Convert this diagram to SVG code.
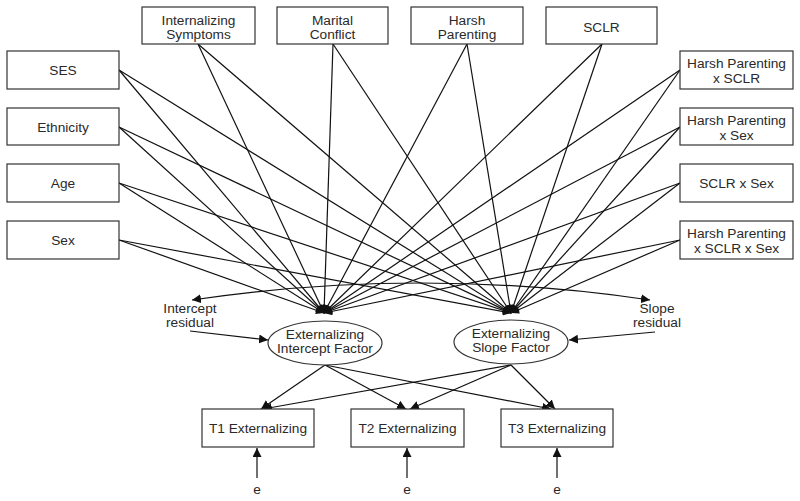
<svg xmlns="http://www.w3.org/2000/svg" width="800" height="501" viewBox="0 0 800 501">
<defs>
<marker id="ah" viewBox="0 0 10 10" refX="10" refY="5" markerWidth="9" markerHeight="8" markerUnits="userSpaceOnUse" orient="auto">
<path d="M0,0 L10,5 L0,10 z" fill="#111"/>
</marker>
<marker id="ahs" viewBox="0 0 10 10" refX="10" refY="5" markerWidth="9" markerHeight="9" markerUnits="userSpaceOnUse" orient="auto-start-reverse">
<path d="M0,0 L10,5 L0,10 z" fill="#111"/>
</marker>
<marker id="ahb" viewBox="0 0 10 10" refX="10" refY="5" markerWidth="9" markerHeight="9" markerUnits="userSpaceOnUse" orient="auto">
<path d="M0,0 L10,5 L0,10 z" fill="#111"/>
</marker>
</defs>
<style>
rect{fill:#fff;stroke:#333;stroke-width:1.2}
ellipse{fill:#fff;stroke:#333;stroke-width:1.2}
text{font-family:"Liberation Sans",Arial,sans-serif;font-size:13.7px;fill:#2a2a2a;text-anchor:middle}
.c line,.c path{stroke:#111;stroke-width:1.2;fill:none}
.p{marker-end:url(#ah)}
.b{marker-end:url(#ahb)}
</style>
<rect width="800" height="501" fill="#fff" style="stroke:none"/>
<g class="c" id="connectors">
<line class="p" x1="119" y1="70" x2="324" y2="313"/>
<line class="p" x1="119" y1="70" x2="511" y2="313"/>
<line class="p" x1="119" y1="127" x2="324" y2="313"/>
<line class="p" x1="119" y1="127" x2="511" y2="313"/>
<line class="p" x1="119" y1="183" x2="324" y2="313"/>
<line class="p" x1="119" y1="183" x2="511" y2="313"/>
<line class="p" x1="119" y1="240" x2="324" y2="313"/>
<line class="p" x1="119" y1="240" x2="511" y2="313"/>
<line class="p" x1="198" y1="44" x2="324" y2="313"/>
<line class="p" x1="198" y1="44" x2="511" y2="313"/>
<line class="p" x1="333" y1="44" x2="324" y2="313"/>
<line class="p" x1="333" y1="44" x2="511" y2="313"/>
<line class="p" x1="467" y1="44" x2="324" y2="313"/>
<line class="p" x1="467" y1="44" x2="511" y2="313"/>
<line class="p" x1="602" y1="44" x2="324" y2="313"/>
<line class="p" x1="602" y1="44" x2="511" y2="313"/>
<line class="p" x1="680" y1="70" x2="324" y2="313"/>
<line class="p" x1="680" y1="70" x2="511" y2="313"/>
<line class="p" x1="680" y1="127" x2="324" y2="313"/>
<line class="p" x1="680" y1="127" x2="511" y2="313"/>
<line class="p" x1="680" y1="183" x2="324" y2="313"/>
<line class="p" x1="680" y1="183" x2="511" y2="313"/>
<line class="p" x1="680" y1="240" x2="324" y2="313"/>
<line class="p" x1="680" y1="240" x2="511" y2="313"/>
<path d="M192,300 Q421,266 650,300" marker-start="url(#ahs)" marker-end="url(#ahs)"/>
<line class="b" x1="190" y1="331" x2="268" y2="340"/>
<line class="b" x1="655" y1="332" x2="569" y2="340"/>
<line class="b" x1="325" y1="365" x2="261" y2="409"/>
<line class="b" x1="325" y1="365" x2="406" y2="409"/>
<line class="b" x1="325" y1="365" x2="551" y2="409"/>
<line class="b" x1="511" y1="365" x2="263" y2="409"/>
<line class="b" x1="511" y1="365" x2="410" y2="409"/>
<line class="b" x1="511" y1="365" x2="555" y2="409"/>
<line class="b" x1="257" y1="478" x2="257" y2="448"/>
<line class="b" x1="407" y1="478" x2="407" y2="448"/>
<line class="b" x1="557" y1="478" x2="557" y2="448"/>
</g>
<g id="internalizing"><rect x="142" y="7" width="113" height="37"/><text x="198.5" y="25">Internalizing</text><text x="198.5" y="39">Symptoms</text></g>
<g id="marital"><rect x="277" y="7" width="111" height="37"/><text x="332.5" y="25">Marital</text><text x="332.5" y="39">Conflict</text></g>
<g id="harsh"><rect x="411" y="7" width="112" height="37"/><text x="467" y="25">Harsh</text><text x="467" y="39">Parenting</text></g>
<g id="sclr"><rect x="546" y="7" width="111" height="37"/><text x="601.5" y="32">SCLR</text></g>
<g id="ses"><rect x="7" y="51" width="112" height="38"/><text x="63" y="75">SES</text></g>
<g id="ethnicity"><rect x="7" y="108" width="112" height="37"/><text x="63" y="131.5">Ethnicity</text></g>
<g id="age"><rect x="7" y="164" width="112" height="38"/><text x="63" y="188">Age</text></g>
<g id="sex"><rect x="7" y="221" width="112" height="38"/><text x="63" y="245">Sex</text></g>
<g id="hpxsclr"><rect x="680" y="51" width="113" height="38"/><text x="736.5" y="68">Harsh Parenting</text><text x="736.5" y="83">x SCLR</text></g>
<g id="hpxsex"><rect x="680" y="108" width="113" height="37"/><text x="736.5" y="125">Harsh Parenting</text><text x="736.5" y="140">x Sex</text></g>
<g id="sclrxsex"><rect x="680" y="164" width="113" height="38"/><text x="736.5" y="188">SCLR x Sex</text></g>
<g id="hpxsclrxsex"><rect x="680" y="221" width="113" height="38"/><text x="736.5" y="238">Harsh Parenting</text><text x="736.5" y="253">x SCLR x Sex</text></g>
<g id="intercept"><ellipse cx="325" cy="343" rx="57" ry="22"/><text x="325" y="339">Externalizing</text><text x="325" y="353">Intercept Factor</text></g>
<g id="slope"><ellipse cx="511" cy="342" rx="57" ry="22"/><text x="511" y="338">Externalizing</text><text x="511" y="352">Slope Factor</text></g>
<g id="intres"><text x="190" y="313">Intercept</text><text x="190" y="327">residual</text></g>
<g id="sloperes"><text x="657" y="313">Slope</text><text x="657" y="327">residual</text></g>
<g id="t1"><rect x="202" y="409" width="112" height="38"/><text x="258" y="433">T1 Externalizing</text></g>
<g id="t2"><rect x="351" y="409" width="113" height="38"/><text x="407.5" y="433">T2 Externalizing</text></g>
<g id="t3"><rect x="501" y="409" width="112" height="38"/><text x="557" y="433">T3 Externalizing</text></g>
<g id="e1"><text x="257" y="494">e</text></g>
<g id="e2"><text x="407" y="494">e</text></g>
<g id="e3"><text x="557" y="494">e</text></g>
</svg>
